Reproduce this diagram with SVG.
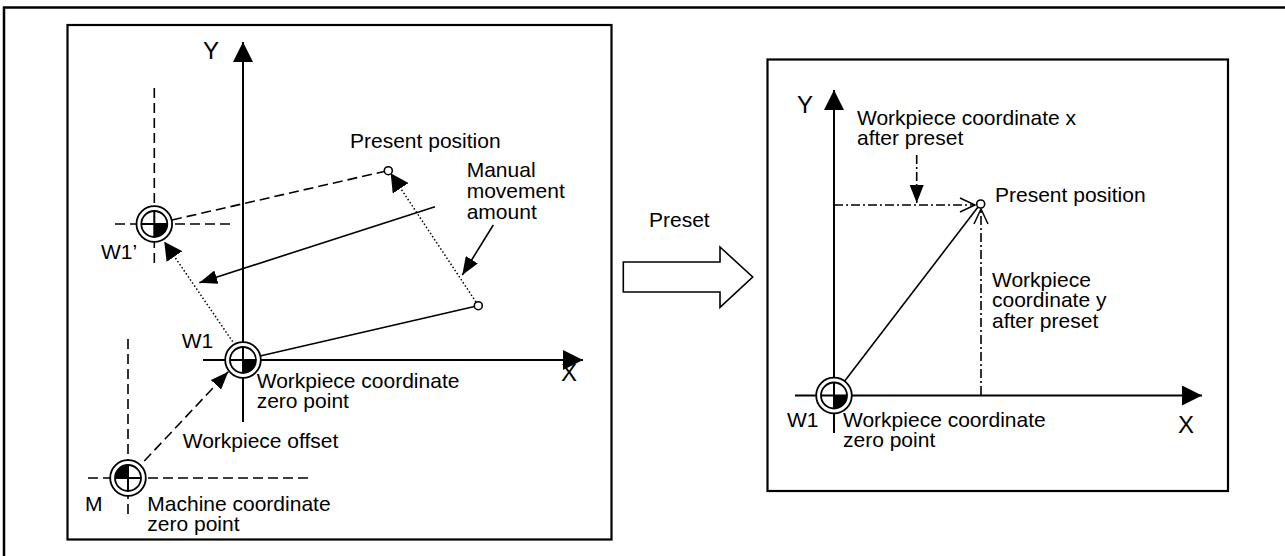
<svg xmlns="http://www.w3.org/2000/svg" width="1285" height="556" viewBox="0 0 1285 556">
<style>
text{font-family:"Liberation Sans",Arial,sans-serif;font-size:21px;fill:#000}
.ax{font-size:24px}
.box{fill:none;stroke:#000;stroke-width:2.2}
.axis{stroke:#000;stroke-width:2;fill:none}
.solid{stroke:#000;stroke-width:1.6;fill:none}
.dash{stroke:#000;stroke-width:1.6;fill:none;stroke-dasharray:10 5}
.dot{stroke:#000;stroke-width:1.5;fill:none;stroke-dasharray:1.5 2.2}
.dd{stroke:#000;stroke-width:1.6;fill:none;stroke-dasharray:9 3 2 3}
.pt{fill:#fff;stroke:#000;stroke-width:1.6}
</style>
<defs>
<marker id="axh" viewBox="0 0 20 20" refX="20" refY="10" markerWidth="20" markerHeight="20" orient="auto" markerUnits="userSpaceOnUse"><path d="M0,0 L20,10 L0,20 Z"/></marker>
<marker id="ah" viewBox="0 0 18 14" refX="18" refY="7" markerWidth="18" markerHeight="14" orient="auto" markerUnits="userSpaceOnUse"><path d="M0,0 L18,7 L0,14 Z"/></marker>
<marker id="ahw" viewBox="0 0 18 19" refX="18" refY="9.5" markerWidth="18" markerHeight="19" orient="auto" markerUnits="userSpaceOnUse"><path d="M0,0 L18,9.5 L0,19 Z"/></marker>
<marker id="chev" viewBox="-1 -1 17 16" refX="15" refY="7" markerWidth="17" markerHeight="16" orient="auto" markerUnits="userSpaceOnUse" overflow="visible"><path d="M0,0 L15,7 L0,14" fill="none" stroke="#000" stroke-width="1.5"/></marker>
<g id="wsym">
<circle r="17.8" fill="#fff" stroke="#000" stroke-width="1.8"/>
<circle r="13" fill="#fff" stroke="#000" stroke-width="1.8"/>
<path d="M0,0 H13 A13,13 0 0 1 0,13 Z" fill="#000"/>
<path d="M-13,0 H13 M0,-13 V13" stroke="#000" stroke-width="2"/>
</g>
<g id="msym">
<circle r="17.8" fill="#fff" stroke="#000" stroke-width="1.8"/>
<circle r="13" fill="#fff" stroke="#000" stroke-width="1.8"/>
<path d="M0,0 H-13 A13,13 0 0 1 0,-13 Z" fill="#000"/>
<path d="M-13,0 H13 M0,-13 V13" stroke="#000" stroke-width="2"/>
</g>
</defs>
<rect width="1285" height="556" fill="#fff"/>
<g id="frame">
<path d="M4,556 V7.5 H1285" fill="none" stroke="#000" stroke-width="2.5"/>
<rect class="box" x="67.5" y="25" width="544" height="514.5"/>
<rect class="box" x="767.5" y="59.5" width="460.5" height="431.5"/>
</g>
<g id="left-axes">
<line class="axis" x1="243" y1="422" x2="243" y2="42" marker-end="url(#axh)"/>
<line class="axis" x1="203" y1="360" x2="583" y2="360" marker-end="url(#axh)"/>
<text class="ax" x="203" y="59">Y</text>
<text class="ax" x="561" y="381">X</text>
</g>
<g id="guides">
<line class="dash" x1="154.3" y1="88" x2="154.3" y2="264"/>
<line class="dash" x1="115" y1="224" x2="234" y2="224"/>
<line class="dash" x1="128" y1="339" x2="128" y2="516"/>
<line class="dash" x1="88" y1="478" x2="310" y2="478"/>
</g>
<g id="connectors">
<line class="dash" x1="172" y1="220" x2="384" y2="171.5"/>
<line class="solid" x1="260" y1="356" x2="474.5" y2="306.5"/>
<line class="dot" x1="476" y1="302" x2="390.7" y2="173.3" marker-end="url(#ahw)"/>
<line class="dot" x1="232.7" y1="341.7" x2="164.3" y2="241.7" marker-end="url(#ahw)"/>
<line class="solid" x1="435" y1="206.7" x2="199.3" y2="282.7" marker-end="url(#ah)"/>
<line class="solid" x1="493.3" y1="225" x2="462.3" y2="275" marker-end="url(#ah)"/>
<line class="dash" x1="134" y1="472" x2="228.3" y2="371.7" marker-end="url(#ah)"/>
<line class="dd" x1="834" y1="205" x2="975" y2="205" marker-end="url(#chev)"/>
<line class="dd" x1="981" y1="395" x2="981" y2="209" marker-end="url(#chev)"/>
<line class="dd" x1="916.7" y1="155" x2="916.7" y2="203" marker-end="url(#ah)"/>
<line class="solid" x1="834" y1="395" x2="978" y2="207"/>
</g>
<g id="node-w1prime">
<use href="#wsym" x="154.3" y="224"/>
<text x="101" y="259">W1’</text>
</g>
<g id="node-w1">
<use href="#wsym" x="243" y="360"/>
<text x="181.7" y="348">W1</text>
<text x="256.7" y="388.3">Workpiece coordinate</text>
<text x="256.7" y="408.3">zero point</text>
</g>
<g id="node-m">
<use href="#msym" x="128" y="478"/>
<text x="85" y="511">M</text>
<text x="147.3" y="511">Machine coordinate</text>
<text x="147.3" y="531">zero point</text>
</g>
<g id="label-offset">
<text x="182.7" y="448.3">Workpiece offset</text>
</g>
<g id="node-present-left">
<circle class="pt" cx="388.3" cy="170.7" r="4"/>
<text x="350" y="148">Present position</text>
</g>
<g id="node-point2">
<circle class="pt" cx="478.3" cy="305.7" r="4"/>
</g>
<g id="label-manual">
<text x="466.7" y="177">Manual</text>
<text x="466.7" y="198">movement</text>
<text x="466.7" y="219">amount</text>
</g>
<g id="preset">
<text x="649" y="227">Preset</text>
<polygon points="623.3,262 720,262 720,247 752.7,277 720,307.3 720,292 623.3,292" fill="#fff" stroke="#000" stroke-width="1.6"/>
</g>
<g id="right-axes">
<line class="axis" x1="834" y1="433" x2="834" y2="90" marker-end="url(#axh)"/>
<line class="axis" x1="795" y1="395.5" x2="1202" y2="395.5" marker-end="url(#axh)"/>
<text class="ax" x="797" y="113">Y</text>
<text class="ax" x="1178" y="433">X</text>
</g>
<g id="node-w1-right">
<use href="#wsym" x="834" y="395.5"/>
<text x="787" y="427">W1</text>
<text x="843" y="427">Workpiece coordinate</text>
<text x="843" y="447">zero point</text>
</g>
<g id="node-present-right">
<circle class="pt" cx="980.7" cy="204" r="4"/>
<text x="995" y="202">Present position</text>
</g>
<g id="label-x-after">
<text x="857" y="125">Workpiece coordinate x</text>
<text x="857" y="145">after preset</text>
</g>
<g id="label-y-after">
<text x="992" y="287">Workpiece</text>
<text x="992" y="307">coordinate y</text>
<text x="992" y="328">after preset</text>
</g>
</svg>
